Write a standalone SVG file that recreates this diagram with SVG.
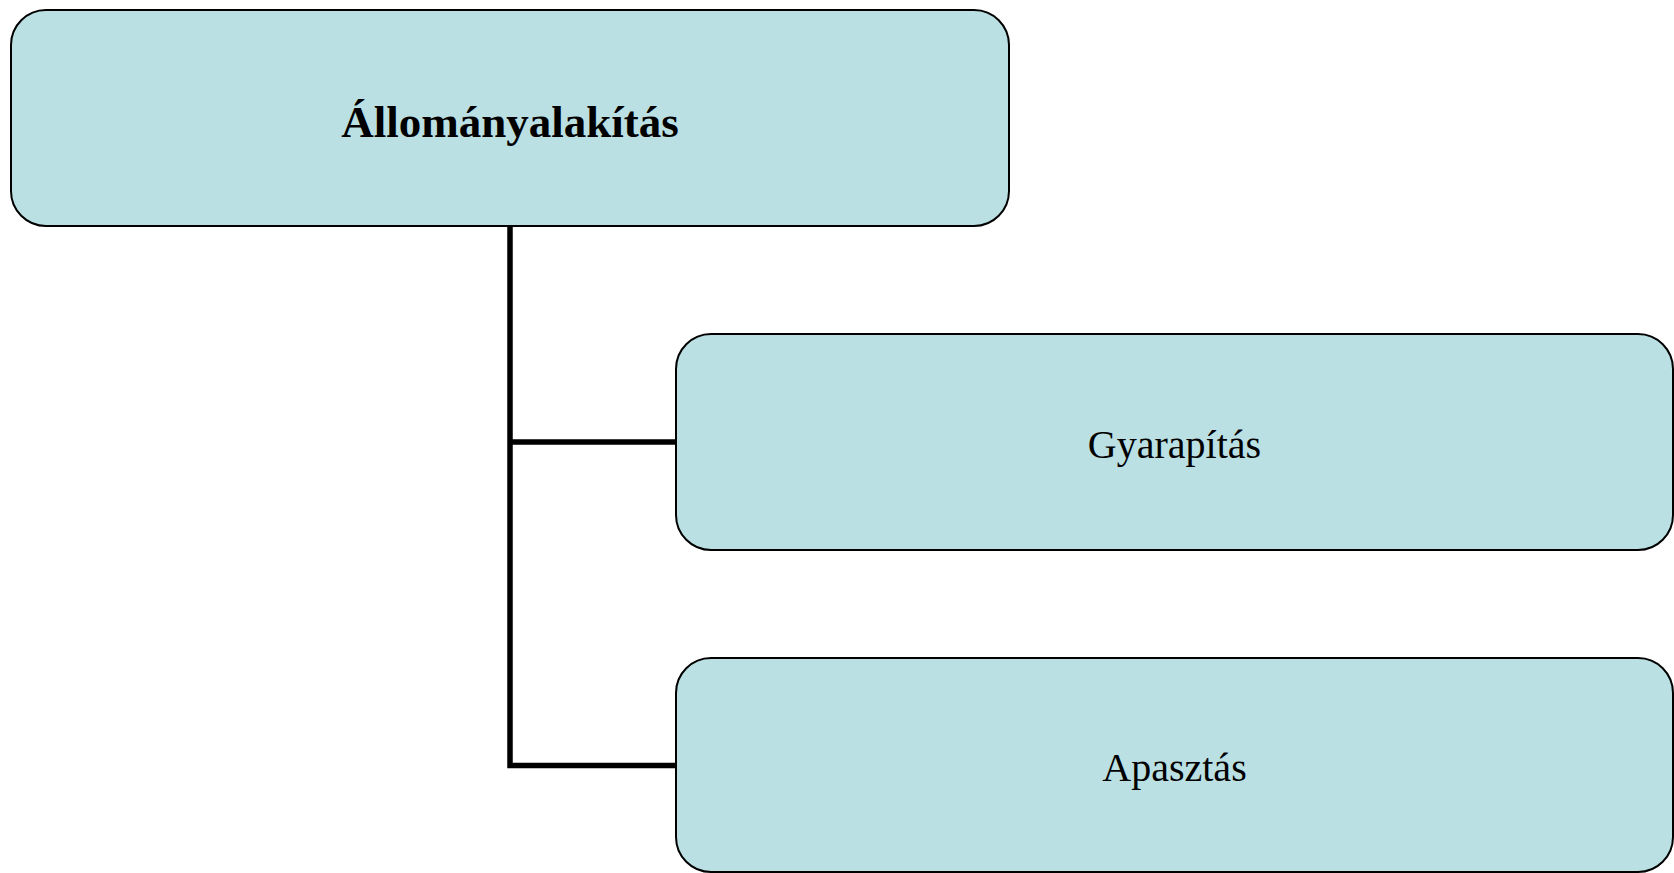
<svg xmlns="http://www.w3.org/2000/svg" width="1674" height="873" viewBox="0 0 1674 873">
<style>
.box{fill:#BAE0E3;stroke:#000;stroke-width:2}
.conn{fill:none;stroke:#000;stroke-width:5.5}
.lbl{font-family:"Liberation Serif","Times New Roman",serif;fill:#000;text-anchor:middle}
</style>
<rect x="0" y="0" width="1674" height="873" fill="#fff"/>
<g id="connectors">
<path class="conn" d="M510 226 V768 M510 442 H676 M507.25 765.5 H676"/>
</g>
<g id="node-allomanyalakitas">
<rect class="box" x="11" y="10" width="998" height="216" rx="35" ry="35"/>
<text class="lbl" x="510" y="137" font-size="45" font-weight="bold">Állományalakítás</text>
</g>
<g id="node-gyarapitas">
<rect class="box" x="676" y="334" width="997" height="216" rx="35" ry="35"/>
<text class="lbl" x="1174.5" y="458" font-size="40">Gyarapítás</text>
</g>
<g id="node-apasztas">
<rect class="box" x="676" y="658" width="997" height="214" rx="35" ry="35"/>
<text class="lbl" x="1174.5" y="781" font-size="40">Apasztás</text>
</g>
</svg>
